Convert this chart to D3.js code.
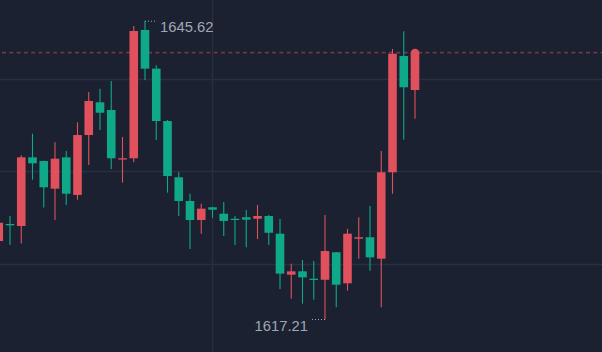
<!DOCTYPE html>
<html>
<head>
<meta charset="utf-8">
<script src="https://cdn.jsdelivr.net/npm/d3@7"></script>
<style>
  html, body { margin: 0; padding: 0; background: #1b2130; }
  svg { display: block; }
</style>
</head>
<body>
<svg id="chart" width="602" height="352"></svg>
<script>
// ---- data ----
const opens  = [1624.67,1626.29,1626.10,1632.63,1632.28,1629.65,1632.63,1629.05,1634.75,1637.86,
                1637.13,1632.42,1632.54,1644.74,1641.06,1636.08,1630.73,1628.48,1626.67,1627.88,
                1627.27,1626.79,1626.93,1626.79,1627.05,1625.37,1621.47,1621.79,1621.09,1620.99,
                1623.60,1620.65,1624.89,1625.03,1622.99,1631.21,1642.26,1639.03];
const closes = [1626.41,1626.17,1632.63,1632.06,1629.78,1632.50,1629.17,1634.75,1637.99,1636.87,
                1632.54,1632.54,1644.64,1641.06,1636.08,1630.85,1628.48,1626.67,1627.75,1627.65,
                1626.58,1626.67,1626.70,1627.05,1625.46,1621.57,1621.79,1621.22,1620.97,1623.72,
                1620.52,1625.37,1625.03,1623.12,1631.21,1642.48,1639.29,1642.58];
const highs  = [1626.58,1627.05,1632.82,1634.88,1632.33,1634.06,1633.23,1635.96,1638.84,1639.15,
                1639.89,1634.56,1645.12,1645.62,1641.38,1636.18,1631.21,1629.17,1628.22,1627.91,
                1628.38,1627.05,1627.62,1628.10,1627.15,1626.77,1622.52,1622.87,1622.77,1627.15,
                1623.63,1625.82,1626.93,1628.00,1633.23,1642.93,1644.61,1642.88];
const lows   = [1624.48,1624.32,1624.44,1630.50,1627.86,1626.67,1628.10,1628.60,1631.90,1635.23,
                1631.52,1630.22,1632.16,1639.98,1634.28,1629.27,1627.05,1623.91,1625.37,1626.89,
                1625.15,1624.29,1624.07,1624.86,1624.29,1620.11,1619.19,1618.71,1619.09,1617.21,
                1618.37,1619.95,1622.99,1621.85,1618.37,1629.17,1634.31,1636.30];
const gridValues = [1640.08, 1631.33, 1622.46];
const xTickIndex = [19];
const maxLabel = "1645.62";
const minLabel = "1617.21";

// ---- setup ----
const W = 602, H = 352;
const svg = d3.select("#chart");
const RED = "#e0505d", GREEN = "#0fa98a";

svg.append("rect").attr("width", W).attr("height", H).attr("fill", "#1b2130");

const candles = opens.map((o, i) => ({ i, o, c: closes[i], h: highs[i], l: lows[i] }));

const x = d3.scaleLinear().domain([0, 37]).range([-1.25, 415]);
const y = d3.scaleLinear().domain([1617.21, 1645.62]).range([319.5, 20.7]);
const bodyW = 8.6;

// grid
svg.append("g").selectAll("line.h").data(gridValues).join("line")
  .attr("x1", 0).attr("x2", W)
  .attr("y1", d => Math.round(y(d)) + 0.5).attr("y2", d => Math.round(y(d)) + 0.5)
  .attr("stroke", "#283040").attr("stroke-width", 1.4);
svg.append("g").selectAll("line.v").data(xTickIndex).join("line")
  .attr("x1", d => Math.floor(x(d)) + 0.5).attr("x2", d => Math.floor(x(d)) + 0.5)
  .attr("y1", 0).attr("y2", H)
  .attr("stroke", "#283040").attr("stroke-width", 1.4);

// last price dashed line
const last = candles[candles.length - 1];
svg.append("line")
  .attr("x1", 2).attr("x2", W)
  .attr("y1", y(last.c)).attr("y2", y(last.c))
  .attr("stroke", "#703845").attr("stroke-width", 1.6)
  .attr("stroke-dasharray", "4,3.3");

// candles
const g = svg.append("g");
const color = d => d.c >= d.o ? RED : GREEN;
g.selectAll("line.wick").data(candles).join("line")
  .attr("x1", d => x(d.i)).attr("x2", d => x(d.i))
  .attr("y1", d => y(d.h)).attr("y2", d => y(d.l))
  .attr("stroke", color).attr("stroke-width", 1.1);
g.selectAll("rect.body").data(candles).join("rect")
  .attr("x", d => x(d.i) - bodyW / 2)
  .attr("width", bodyW)
  .attr("y", d => Math.min(y(d.o), y(d.c)))
  .attr("height", d => Math.max(1.3, Math.abs(y(d.o) - y(d.c))))
  .attr("fill", color);

// rounded cap on the live candle
svg.append("circle")
  .attr("cx", x(last.i)).attr("cy", y(last.c) + 0.3)
  .attr("r", bodyW / 2).attr("fill", color(last));

// high / low marks
const hiIdx = d3.maxIndex(highs), loIdx = d3.minIndex(lows);
const markColor = "#a0a7b3";
const hx = x(hiIdx), hy = y(highs[hiIdx]);
svg.append("line").attr("x1", hx).attr("x2", hx + 12).attr("y1", hy + 0.5).attr("y2", hy + 0.5)
  .attr("stroke", markColor).attr("stroke-width", 1).attr("stroke-dasharray", "1,2");
svg.append("text").attr("x", hx + 15).attr("y", hy + 11)
  .attr("fill", markColor).attr("font-family", "Liberation Sans, Arial, sans-serif")
  .attr("font-size", 14.8).text(maxLabel);

const lx = x(loIdx), ly = y(lows[loIdx]);
svg.append("line").attr("x1", lx - 13).attr("x2", lx).attr("y1", ly).attr("y2", ly)
  .attr("stroke", markColor).attr("stroke-width", 1).attr("stroke-dasharray", "1,2");
svg.append("text").attr("x", lx - 17).attr("y", ly + 11).attr("text-anchor", "end")
  .attr("fill", markColor).attr("font-family", "Liberation Sans, Arial, sans-serif")
  .attr("font-size", 14.8).text(minLabel);
</script>
</body>
</html>
